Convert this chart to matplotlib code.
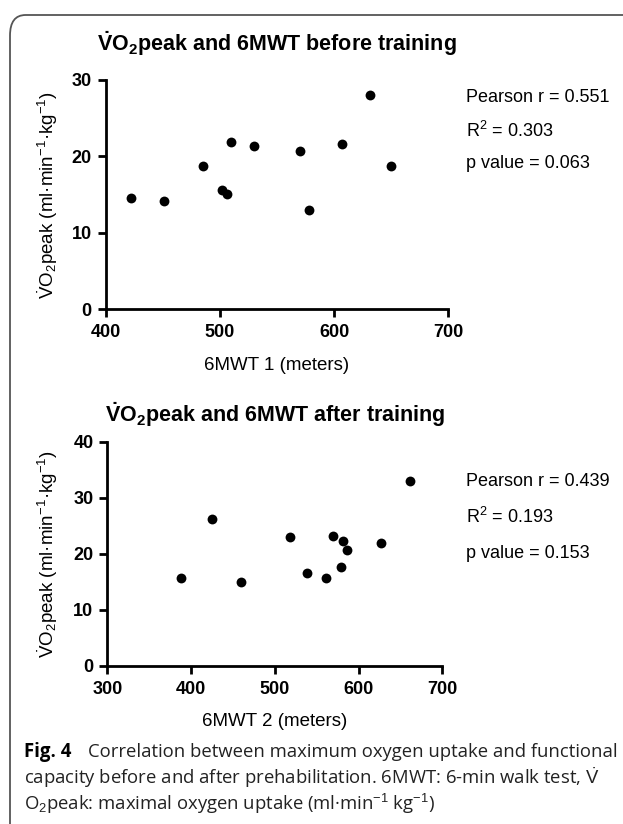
import matplotlib
matplotlib.use("Agg")
import matplotlib.pyplot as plt
from matplotlib.patches import FancyBboxPatch

plt.rcParams['font.family'] = ['Liberation Sans', 'DejaVu Sans']
plt.rcParams['mathtext.fontset'] = 'custom'
plt.rcParams['mathtext.rm'] = 'Liberation Sans'
plt.rcParams['mathtext.bf'] = 'Liberation Sans:bold'
plt.rcParams['mathtext.it'] = 'Liberation Sans:italic'

# ---- data ----
walk_before = [422, 451, 485, 502, 506, 510, 530, 570, 578, 607, 631, 650]
vo2_before = [14.6, 14.2, 18.7, 15.6, 15.1, 21.9, 21.4, 20.7, 13.0, 21.6, 28.0, 18.7]
walk_after = [388, 425, 460, 518, 538, 561, 570, 579, 582, 586, 627, 661]
vo2_after = [15.7, 26.2, 15.0, 23.0, 16.6, 15.7, 23.2, 17.7, 22.3, 20.7, 22.0, 33.1]

xticks_before = [400, 500, 600, 700]
yticks_before = [0, 10, 20, 30]
xticks_after = [300, 400, 500, 600, 700]
yticks_after = [0, 10, 20, 30, 40]

stats_before = ["Pearson r = 0.551", "R$^2$ = 0.303", "p value = 0.063"]
stats_after = ["Pearson r = 0.439", "R$^2$ = 0.193", "p value = 0.153"]

title_before = r"$\mathbf{\dot{V}O_2}$peak and 6MWT before training"
title_after = r"$\mathbf{\dot{V}O_2}$peak and 6MWT after training"
ylabel = r"$\dot{\mathrm{V}}\mathrm{O}_\mathrm{2}$peak (ml·min$^{\mathrm{-1}}$·kg$^{\mathrm{-1}}$)"
xlabel_before = "6MWT 1 (meters)"
xlabel_after = "6MWT 2 (meters)"

W, H = 623, 824
fig = plt.figure(figsize=(W / 100, H / 100), dpi=100)
fig.patch.set_facecolor('white')

def fx(px):
    return px / W

def fy(py):
    return 1 - py / H

# border box
box = FancyBboxPatch((fx(10), fy(900)), fx(700), (900 - 15) / H,
                     boxstyle="round,pad=0,rounding_size=0.025",
                     transform=fig.transFigure, fill=False,
                     edgecolor='#555555', linewidth=1.3, clip_on=False)
fig.patches.append(box)


def make_panel(rect, xs, ys, xticks, yticks, title, xlabel, stats,
               title_y, ylab_y, xlab_y, stats_y):
    l, r, t, b = rect
    ax = fig.add_axes([fx(l), fy(b), fx(r - l), (b - t) / H])
    ax.scatter(xs, ys, s=50, color='black', zorder=3, clip_on=False,
               linewidths=0)
    ax.set_xlim(xticks[0], xticks[-1])
    ax.set_ylim(yticks[0], yticks[-1])
    ax.set_xticks(xticks)
    ax.set_yticks(yticks)
    for s in ['top', 'right']:
        ax.spines[s].set_visible(False)
    for s in ['left', 'bottom']:
        ax.spines[s].set_linewidth(2.0)
        ax.spines[s].set_capstyle('projecting')
    ax.tick_params(direction='out', length=6, width=2, labelsize=13)
    ax.tick_params(axis='x', pad=5)
    ax.tick_params(axis='y', pad=4)
    for lab in ax.get_xticklabels() + ax.get_yticklabels():
        lab.set_fontweight('bold')
    ax.set_facecolor('none')
    cx = (l + r) / 2
    fig.text(fx(cx), fy(title_y), title, ha='center', va='center',
             fontsize=15.5, fontweight='bold')
    fig.text(fx(48), fy(ylab_y), ylabel, rotation=90, ha='center',
             va='center', fontsize=13.5)
    fig.text(fx(cx), fy(xlab_y), xlabel, ha='center', va='center',
             fontsize=13.5)
    for txt, yy in zip(stats, stats_y):
        fig.text(fx(466), fy(yy), txt, ha='left', va='center', fontsize=13)
    return ax

make_panel((105.7, 448.3, 80, 309), walk_before, vo2_before,
           xticks_before, yticks_before, title_before, xlabel_before,
           stats_before, 44, 195, 366, [97, 131, 164])
make_panel((107.3, 442.3, 442, 666), walk_after, vo2_after,
           xticks_after, yticks_after, title_after, xlabel_after,
           stats_after, 415, 554, 722, [481, 517, 553])

# caption
cap_font = ['Open Sans', 'DejaVu Sans']
cap_size = 13.3
cap_color = '#222222'
fig.text(fx(24), fy(752), "Fig. 4", ha='left', va='center', fontsize=13.4,
         fontweight='bold', family=cap_font)
fig.text(fx(88), fy(752), "Correlation between maximum oxygen uptake and functional",
         ha='left', va='center', fontsize=cap_size, family=cap_font, color=cap_color)
fig.text(fx(24), fy(778),
         r"capacity before and after prehabilitation. 6MWT: 6-min walk test, $\dot{\mathrm{V}}$",
         ha='left', va='center', fontsize=cap_size, family=cap_font, color=cap_color)
fig.text(fx(24), fy(804), r"O$_2$peak: maximal oxygen uptake (ml·min$^{−1}$ kg$^{−1}$)",
         ha='left', va='center', fontsize=cap_size, family=cap_font, color=cap_color)

fig.savefig("out.png", dpi=100, facecolor='white')
